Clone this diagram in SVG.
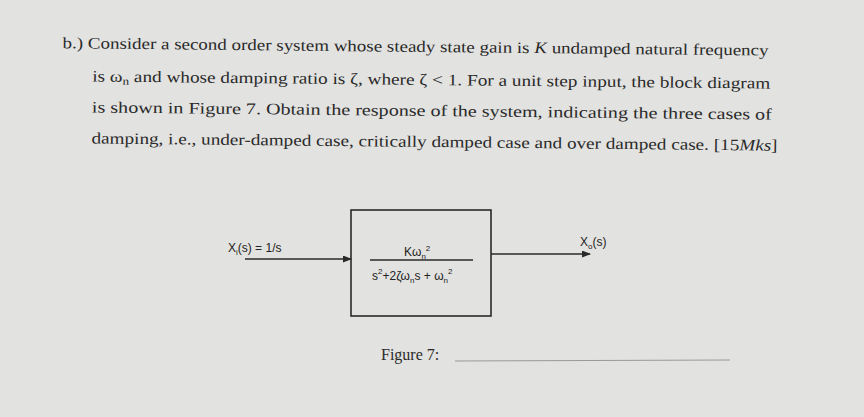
<svg xmlns="http://www.w3.org/2000/svg" width="864" height="417" viewBox="0 0 864 417">
<style>
.t{font-family:"Liberation Serif",serif;font-size:16px;fill:#2a2a2a}
.s{font-family:"Liberation Sans",sans-serif;font-size:12px;fill:#222}
.l{stroke:#2a2a2a;stroke-width:1.6;fill:none}
</style>
<defs><marker id="a" markerWidth="9" markerHeight="7" refX="8" refY="3.5" orient="auto" markerUnits="userSpaceOnUse"><path d="M0,0L9,3.5L0,7z" fill="#2a2a2a"/></marker></defs>
<rect width="864" height="417" fill="#e2e2e0"/>
<g transform="rotate(0.6 430 100)">
<text class="t" x="62" y="52" textLength="706" lengthAdjust="spacingAndGlyphs">b.) Consider a second order system whose steady state gain is <tspan font-style="italic">K</tspan> undamped natural frequency</text>
<text class="t" x="92" y="85" textLength="678" lengthAdjust="spacingAndGlyphs">is ω<tspan font-size="11" dy="3">n</tspan><tspan dy="-3"> and whose damping ratio is ζ, where ζ &lt; 1. For a unit step input, the block diagram</tspan></text>
<text class="t" x="92" y="116" textLength="680" lengthAdjust="spacingAndGlyphs">is shown in Figure 7. Obtain the response of the system, indicating the three cases of</text>
<text class="t" x="92" y="147" textLength="686" lengthAdjust="spacingAndGlyphs">damping, i.e., under-damped case, critically damped case and over damped case. [15<tspan font-style="italic">Mks</tspan>]</text>
</g>
<g id="block"><rect x="351" y="210" width="140" height="106" class="l"/>
<text class="s" x="404" y="256">Kω<tspan font-size="8" dy="3">n</tspan><tspan font-size="8" dy="-8">2</tspan></text>
<line x1="370" y1="260" x2="473" y2="260" class="l" stroke-width="1.2"/>
<text class="s" x="372" y="280">s<tspan font-size="8" dy="-6">2</tspan><tspan dy="6">+2ζω</tspan><tspan font-size="8" dy="3">n</tspan><tspan dy="-3">s + ω</tspan><tspan font-size="8" dy="3">n</tspan><tspan font-size="8" dy="-9">2</tspan></text>
</g>
<g id="connectors">
<line x1="245" y1="259" x2="351" y2="259" class="l" marker-end="url(#a)"/>
<line x1="491" y1="254" x2="590" y2="254" class="l" marker-end="url(#a)"/>
</g>
<text class="s" x="228" y="252">X<tspan font-size="8" dy="3">i</tspan><tspan dy="-3">(s) = 1/s</tspan></text>
<text class="s" x="580" y="246">X<tspan font-size="8" dy="3">o</tspan><tspan dy="-3">(s)</tspan></text>
<text class="t" x="381" y="360" font-size="15">Figure 7:</text>
<line x1="455" y1="361" x2="730" y2="360" stroke="#999" stroke-width="1"/>
</svg>
